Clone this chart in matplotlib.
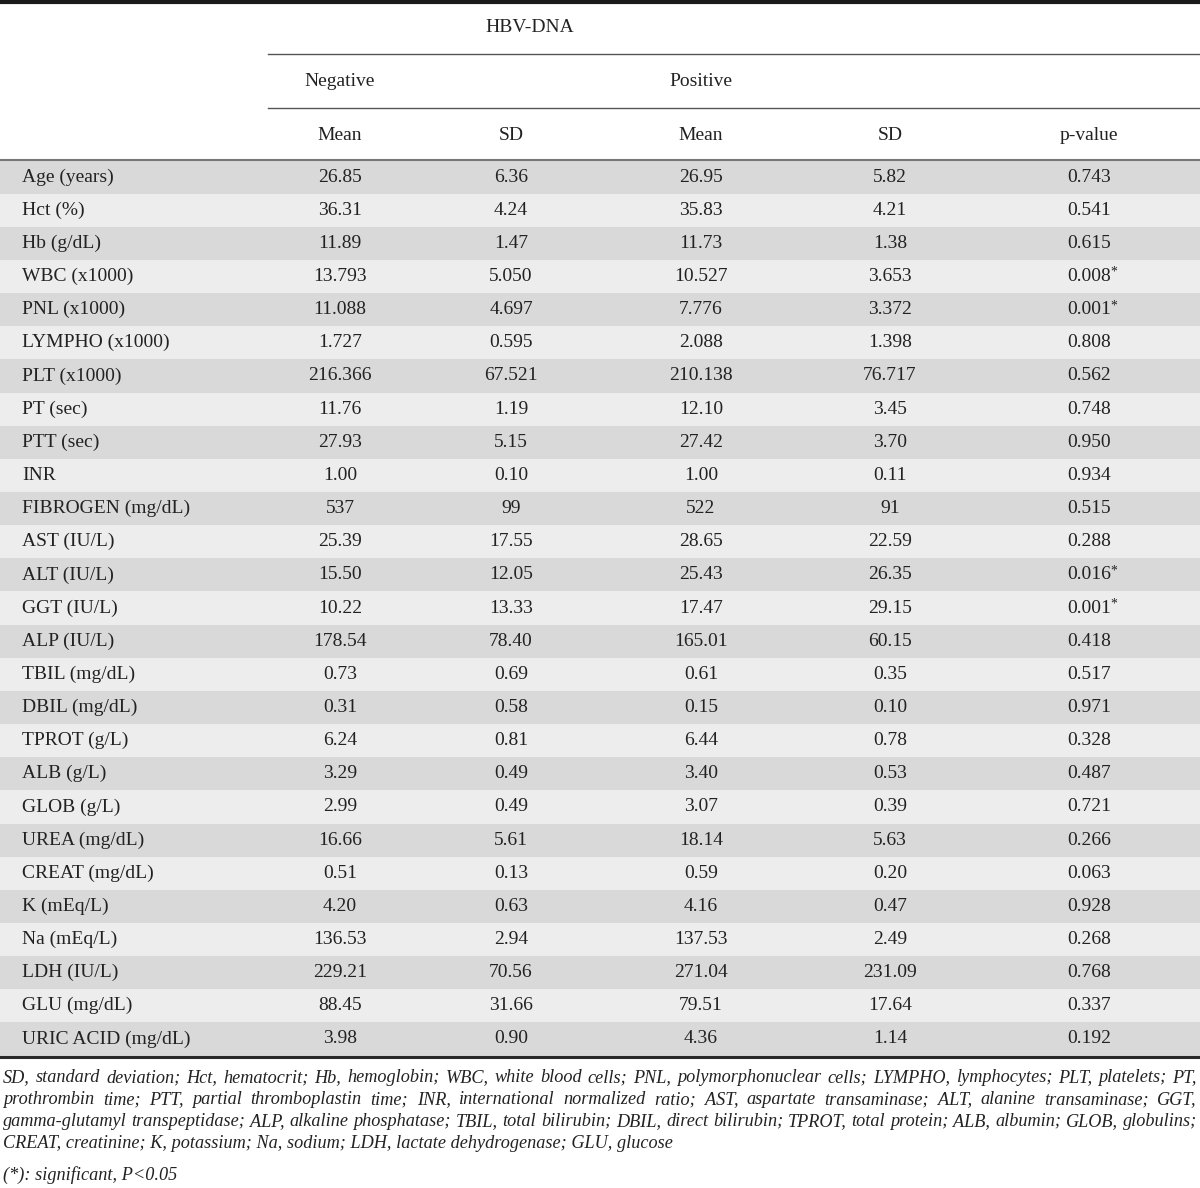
import matplotlib
matplotlib.use("Agg")
import matplotlib.pyplot as plt
from matplotlib.patches import Rectangle

labels = ["Age (years)", "Hct (%)", "Hb (g/dL)", "WBC (x1000)", "PNL (x1000)",
          "LYMPHO (x1000)", "PLT (x1000)", "PT (sec)", "PTT (sec)", "INR",
          "FIBROGEN (mg/dL)", "AST (IU/L)", "ALT (IU/L)", "GGT (IU/L)", "ALP (IU/L)",
          "TBIL (mg/dL)", "DBIL (mg/dL)", "TPROT (g/L)", "ALB (g/L)", "GLOB (g/L)",
          "UREA (mg/dL)", "CREAT (mg/dL)", "K (mEq/L)", "Na (mEq/L)", "LDH (IU/L)",
          "GLU (mg/dL)", "URIC ACID (mg/dL)"]
neg_mean = ["26.85", "36.31", "11.89", "13.793", "11.088", "1.727", "216.366", "11.76",
            "27.93", "1.00", "537", "25.39", "15.50", "10.22", "178.54", "0.73", "0.31",
            "6.24", "3.29", "2.99", "16.66", "0.51", "4.20", "136.53", "229.21", "88.45", "3.98"]
neg_sd = ["6.36", "4.24", "1.47", "5.050", "4.697", "0.595", "67.521", "1.19", "5.15",
          "0.10", "99", "17.55", "12.05", "13.33", "78.40", "0.69", "0.58", "0.81", "0.49",
          "0.49", "5.61", "0.13", "0.63", "2.94", "70.56", "31.66", "0.90"]
pos_mean = ["26.95", "35.83", "11.73", "10.527", "7.776", "2.088", "210.138", "12.10",
            "27.42", "1.00", "522", "28.65", "25.43", "17.47", "165.01", "0.61", "0.15",
            "6.44", "3.40", "3.07", "18.14", "0.59", "4.16", "137.53", "271.04", "79.51", "4.36"]
pos_sd = ["5.82", "4.21", "1.38", "3.653", "3.372", "1.398", "76.717", "3.45", "3.70",
          "0.11", "91", "22.59", "26.35", "29.15", "60.15", "0.35", "0.10", "0.78", "0.53",
          "0.39", "5.63", "0.20", "0.47", "2.49", "231.09", "17.64", "1.14"]
pvalue = ["0.743", "0.541", "0.615", "0.008*", "0.001*", "0.808", "0.562", "0.748",
          "0.950", "0.934", "0.515", "0.288", "0.016*", "0.001*", "0.418", "0.517",
          "0.971", "0.328", "0.487", "0.721", "0.266", "0.063", "0.928", "0.268",
          "0.768", "0.337", "0.192"]
col_headers = ["Mean", "SD", "Mean", "SD", "p-value"]
group_headers = ["Negative", "Positive"]
top_header = "HBV-DNA"

footnote_lines = [
    "SD, standard deviation; Hct, hematocrit; Hb, hemoglobin; WBC, white blood cells; PNL, polymorphonuclear cells; LYMPHO, lymphocytes; PLT, platelets; PT,",
    "prothrombin time; PTT, partial thromboplastin time; INR, international normalized ratio; AST, aspartate transaminase; ALT, alanine transaminase; GGT,",
    "gamma-glutamyl transpeptidase; ALP, alkaline phosphatase; TBIL, total bilirubin; DBIL, direct bilirubin; TPROT, total protein; ALB, albumin; GLOB, globulins;",
    "CREAT, creatinine; K, potassium; Na, sodium; LDH, lactate dehydrogenase; GLU, glucose",
]
footnote2 = "(*): significant, P<0.05"

W, H = 1200, 1188
fig = plt.figure(figsize=(W / 100, H / 100), dpi=100)
ax = fig.add_axes([0, 0, 1, 1])
ax.set_xlim(0, W)
ax.set_ylim(H, 0)
ax.axis("off")

FONT = "Liberation Serif"
FS = 14.0
TXT = "#222222"

row_top = 160.5
row_h = 33.15
dark = "#d9d9da"
light = "#ededed"
col_x = [340, 511, 701, 890, 1089]

for i, lab in enumerate(labels):
    y0 = row_top + i * row_h
    ax.add_patch(Rectangle((0, y0), W, row_h, facecolor=dark if i % 2 == 0 else light,
                           edgecolor="none", zorder=0))
    yc = y0 + row_h / 2
    ax.text(22, yc, lab, family=FONT, fontsize=FS, color=TXT, ha="left", va="center")
    vals = [neg_mean[i], neg_sd[i], pos_mean[i], pos_sd[i], pvalue[i]]
    for x, v in zip(col_x, vals):
        if v.endswith("*"):
            ax.text(x, yc, v[:-1], family=FONT, fontsize=FS, color=TXT, ha="center", va="center")
            ax.text(x + 21.5, yc - 4, "*", family=FONT, fontsize=FS * 0.7, color=TXT,
                    ha="left", va="center")
        else:
            ax.text(x, yc, v, family=FONT, fontsize=FS, color=TXT, ha="center", va="center")

# lines
ax.plot([0, W], [1.8, 1.8], color="#1a1a1a", lw=3.0, solid_capstyle="butt")
ax.plot([268, W], [53.5, 53.5], color="#555555", lw=1.0)
ax.plot([268, W], [107.5, 107.5], color="#555555", lw=1.0)
ax.plot([0, W], [160, 160], color="#777777", lw=1.5)
ybot = row_top + len(labels) * row_h + 1
ax.plot([0, W], [ybot, ybot], color="#2a2a2a", lw=2.2)

# headers
ax.text(530, 28, top_header, family=FONT, fontsize=FS, color=TXT, ha="center", va="center")
ax.text(340, 82, group_headers[0], family=FONT, fontsize=FS, color=TXT, ha="center", va="center")
ax.text(701, 82, group_headers[1], family=FONT, fontsize=FS, color=TXT, ha="center", va="center")
for x, h in zip(col_x, col_headers):
    ax.text(x, 135, h, family=FONT, fontsize=FS, color=TXT, ha="center", va="center")

# footnotes (justified)
fig.canvas.draw()
renderer = fig.canvas.get_renderer()


def width_of(s, fs):
    t = ax.text(0, 0, s, family=FONT, style="italic", fontsize=fs)
    bb = t.get_window_extent(renderer=renderer)
    t.remove()
    return bb.width


left, right = 3, 1197
base_fs = 12.0
nat = max(width_of(l, base_fs) for l in footnote_lines[:3])
FFS = base_fs * (right - left - 8) / nat

fy0 = 1078
lh = 21.7
for k, line in enumerate(footnote_lines):
    y = fy0 + k * lh
    if k < len(footnote_lines) - 1:
        words = line.split(" ")
        widths = [width_of(w, FFS) for w in words]
        gap = (right - left - sum(widths)) / (len(words) - 1)
        x = left
        for w, wd in zip(words, widths):
            ax.text(x, y, w, family=FONT, style="italic", fontsize=FFS, color=TXT,
                    ha="left", va="center")
            x += wd + gap
    else:
        ax.text(left, y, line, family=FONT, style="italic", fontsize=FFS, color=TXT,
                ha="left", va="center")
ax.text(left, 1175, footnote2, family=FONT, style="italic", fontsize=FFS, color=TXT,
        ha="left", va="center")

fig.savefig("out.png", dpi=100)
